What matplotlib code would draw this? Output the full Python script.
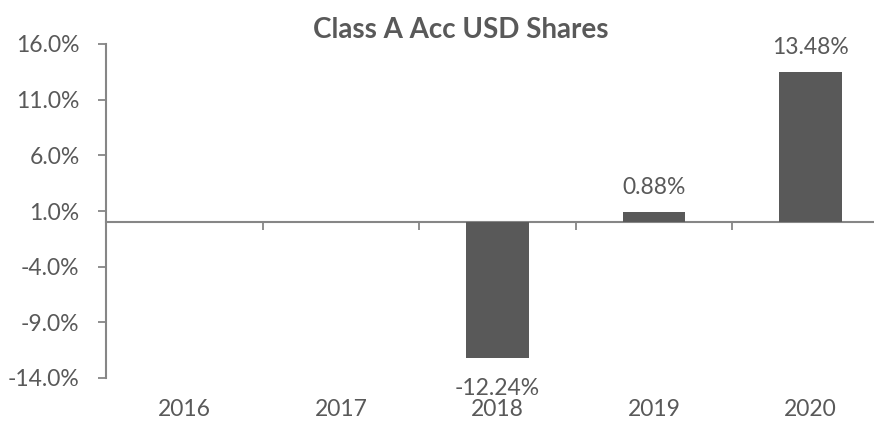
import numpy as np
from matplotlib import pyplot as plt
from matplotlib import transforms

# chart data
years = ["2016", "2017", "2018", "2019", "2020"]
returns = [np.nan, np.nan, -12.24, 0.88, 13.48]
labels = ["", "", "-12.24%", "0.88%", "13.48%"]
yticks = [-14.0, -9.0, -4.0, 1.0, 6.0, 11.0, 16.0]

grey_text = '#595959'
bar_col = '#595959'
axis_col = '#868686'

plt.rcParams['font.family'] = ['Lato', 'DejaVu Sans']

W, H = 874, 423
fig = plt.figure(figsize=(W / 100, H / 100), dpi=100)
# plot area runs past the right edge of the picture, as in the original
left, right, top, bottom = 106, 889, 44, 378
ax = fig.add_axes([left / W, 1 - bottom / H, (right - left) / W, (bottom - top) / H])

x = np.arange(len(years))
ax.bar(x, returns, width=0.4, color=bar_col, zorder=3)

ax.set_xlim(-0.5, len(years) - 0.5)
ax.set_ylim(-14, 16)
ax.set_yticks(yticks)
ax.set_yticklabels(["{:.1f}%".format(v) for v in yticks])

# x axis sits at zero, ticks at category boundaries
ax.spines['bottom'].set_position(('data', 0))
ax.set_xticks(np.arange(len(years) + 1) - 0.5)
ax.set_xticklabels([])
ax.tick_params(axis='x', direction='out', length=6, width=1.3, color=axis_col)
ax.tick_params(axis='y', direction='out', length=6, width=1.3, color=axis_col,
               labelsize=16.5, labelcolor=grey_text, pad=13)
for s in ['top', 'right']:
    ax.spines[s].set_visible(False)
for s in ['left', 'bottom']:
    ax.spines[s].set_color(axis_col)
    ax.spines[s].set_linewidth(1.5)

# category labels below the plot area
trans = transforms.blended_transform_factory(ax.transData, ax.transAxes)
for i, yr in enumerate(years):
    ax.text(i, -0.095, yr, transform=trans, ha='center', va='center',
            fontsize=16.5, color=grey_text)

# value labels
for i, (v, lab) in enumerate(zip(returns, labels)):
    if np.isnan(v):
        continue
    off = 18 if v >= 0 else -22
    ax.annotate(lab, (i, v), xytext=(0, off), textcoords='offset points',
                ha='center', va='center', fontsize=16.5, color=grey_text)

fig.text(461 / W, 1 - 30 / H, "Class A Acc USD Shares", ha='center', va='center',
         fontsize=20, fontweight='bold', color=grey_text)

fig.savefig("out.png", dpi=100)
